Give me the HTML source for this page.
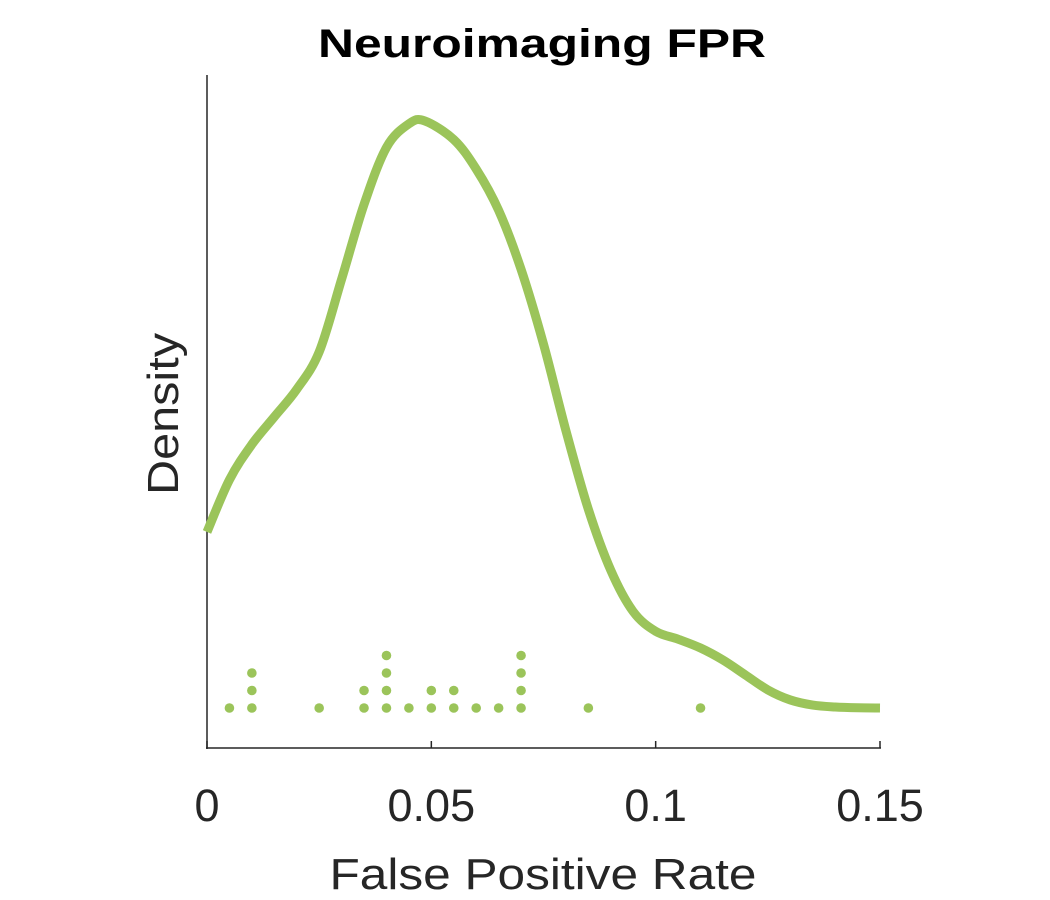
<!DOCTYPE html>
<html><head><meta charset="utf-8"><style>
body{margin:0;background:#fff}
svg{display:block;font-family:"Liberation Sans",sans-serif}
</style></head><body>
<svg id="c" width="1050" height="900">
<text x="542" y="57" text-anchor="middle" font-size="40" font-weight="bold" fill="#000" textLength="448" lengthAdjust="spacingAndGlyphs">Neuroimaging FPR</text>
<text x="543" y="889" text-anchor="middle" font-size="44" fill="#262626" textLength="427" lengthAdjust="spacingAndGlyphs">False Positive Rate</text>
<text transform="translate(178,414) rotate(-90)" text-anchor="middle" font-size="44" fill="#262626" textLength="162" lengthAdjust="spacingAndGlyphs">Density</text>
<g id="axes"></g>
<g id="marks"></g>
</svg>
<script>
const xTicks=[0,0.05,0.1,0.15];
const xTickLabels=["0","0.05","0.1","0.15"];
const curveX=[0,0.005,0.01,0.015,0.02,0.025,0.03,0.035,0.04,0.045,0.0485,0.055,0.06,0.065,0.07,0.075,0.08,0.085,0.09,0.095,0.1,0.105,0.11,0.115,0.12,0.125,0.13,0.135,0.14,0.145,0.15];
const curveY=[8.95,11.6,13.4,14.8,16.2,18.1,21.8,25.6,28.5,29.7,29.85,28.9,27.4,25.3,22.3,18.5,14.1,10.1,7.0,4.9,3.9,3.5,3.05,2.44,1.68,0.92,0.41,0.15,0.05,0.01,0];
const dotValues=[0.005,0.01,0.01,0.01,0.025,0.035,0.035,0.04,0.04,0.04,0.04,0.045,0.05,0.05,0.055,0.055,0.06,0.065,0.07,0.07,0.07,0.07,0.085,0.11];
const NS="http://www.w3.org/2000/svg";
const xs=v=>207+v/0.15*673;
const ys=d=>708-d*19.67;
const axes=document.getElementById('axes'),marks=document.getElementById('marks');
function mk(tag,attrs,parent){const e=document.createElementNS(NS,tag);for(const k in attrs)e.setAttribute(k,attrs[k]);parent.appendChild(e);return e;}
let l=mk('line',{x1:207,y1:75,x2:207,y2:749,stroke:'#262626','stroke-width':1.5},axes);


l=mk('line',{x1:206,y1:748,x2:881,y2:748,stroke:'#262626','stroke-width':1.5},axes);


xTicks.forEach((t,i)=>{
 const tk=mk('line',{x1:xs(t),y1:748,x2:xs(t),y2:741,stroke:'#262626','stroke-width':1.5},axes);
 
 
 const tx=mk('text',{x:xs(t),y:821,'text-anchor':'middle','font-size':45,fill:'#262626'},axes);
 tx.textContent=xTickLabels[i];
 
 
});
const P=curveX.map((x,i)=>[xs(x),ys(curveY[i])]);
let d='M'+P[0][0]+','+P[0][1];
for(let i=0;i<P.length-1;i++){
 const p0=P[Math.max(0,i-1)],p1=P[i],p2=P[i+1],p3=P[Math.min(P.length-1,i+2)];
 const c1=[p1[0]+(p2[0]-p0[0])/6,p1[1]+(p2[1]-p0[1])/6];
 const c2=[p2[0]-(p3[0]-p1[0])/6,p2[1]-(p3[1]-p1[1])/6];
 d+=` C${c1[0]},${c1[1]} ${c2[0]},${c2[1]} ${p2[0]},${p2[1]}`;
}
const path=mk('path',{d:d,fill:'none',stroke:'#9bc45a','stroke-width':9,'stroke-linejoin':'round'},marks);


const counts={};
dotValues.forEach(v=>{
 const k=v.toFixed(3);counts[k]=(counts[k]||0);
 const c=mk('circle',{cx:xs(v),cy:708-counts[k]*17.5,r:4.8,fill:'#9bc45a'},marks);
 
 
 counts[k]++;
});
</script>
</body></html>
